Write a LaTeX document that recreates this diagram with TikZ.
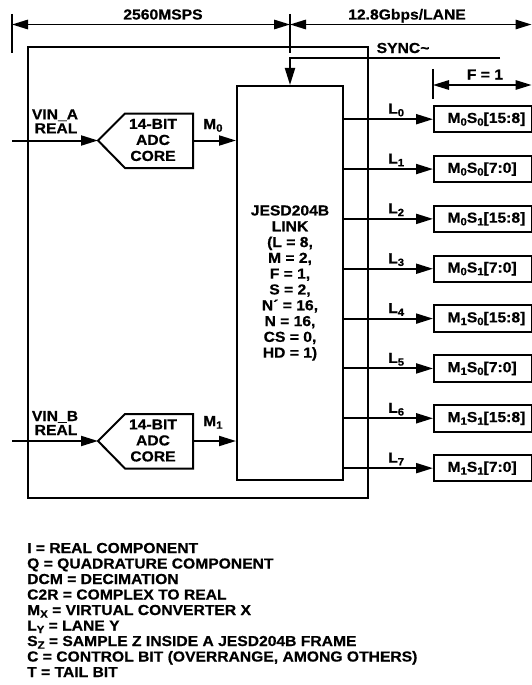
\documentclass[tikz,border=0pt]{standalone}
\usepackage{fontspec}
\setmainfont[FakeStretch=1.08,FakeBold=0.6]{Liberation Sans}
\usetikzlibrary{arrows.meta,calc}
\newcommand\sbs[1]{\raisebox{-0.35ex}{\fontsize{10.5}{10.5}\selectfont #1}}
\begin{document}
\begin{tikzpicture}[x=1pt,y=-1pt,
  every node/.style={font=\bfseries\fontsize{14.5}{15.5}\selectfont, inner sep=0pt},
  ln/.style={line width=2pt},
  tip/.style={},
  arr/.style={ln, -{Triangle[length=17pt,width=10pt]}},
  dimarr/.style={line width=1.5pt, {Triangle[length=16pt,width=9.5pt]}-{Triangle[length=16pt,width=9.5pt]}},
  tickline/.style={line width=1.2pt},
  lanebox/.style={draw, ln, minimum height=26.5pt, text width=98pt, inner xsep=0pt, align=left, anchor=west},
  lbl/.style={anchor=base west}]
\useasboundingbox (0,0) rectangle (532,685);

% dimension lines at the top
\coordinate (d1) at (12,14);
\coordinate (d2) at (290,14);
\coordinate (d3) at (531.5,24.5);
\draw[tickline] (d1) -- ++(0,39);
\draw[tickline] (d2) -- ++(0,39);
\draw[dimarr] ($(d1)+(0,10.5)$) -- ($(d2)+(0,10.5)$);
\draw[dimarr] ($(d2)+(0,10.5)$) -- (d3);
\node[anchor=base] (rate1) at (163,19.5) {2560MSPS};
\node[anchor=base] (rate2) at (407,19.5) {12.8Gbps/LANE};

% outer box
\draw[ln] (28,47) rectangle (368,497.5);

% JESD link
\node[draw, ln, minimum width=106pt, minimum height=394pt, align=center,
      font=\bfseries\fontsize{14.5}{15.8}\selectfont] (jesd) at (290,283)
  {JESD204B\\LINK\\(L = 8,\\M = 2,\\F = 1,\\S = 2,\\N´ = 16,\\N = 16,\\CS = 0,\\HD = 1)};

% SYNC
\coordinate (syncin) at (500,58);
\draw[arr] (syncin) -| (jesd.north);
\node[lbl] (synclbl) at (376.5,53) {SYNC\textasciitilde};

% ADC A
\coordinate (tipA) at (98,140.5);
\coordinate (inA) at (12,140.5);
\coordinate (outA) at (193,140.5);
\draw[ln] (tipA) -- ++(27,-27) -- ++(68,0) -- ++(0,54.5) -- ++(-68,0) -- cycle;
\node[align=center, font=\bfseries\fontsize{14.5}{16}\selectfont] (adcA) at (153,140) {14-BIT\\ADC\\CORE};
\draw[arr] (inA) -- (tipA);
\draw[arr] (outA) -- (outA -| jesd.west);
\node[lbl] (m0) at (203,129) {M\sbs0};
\node[anchor=base] (vinA) at (55,119.3) {VIN\_A};
\node[anchor=base] (realA) at (56,133.3) {REAL};

% ADC B
\coordinate (tipB) at (98,441);
\coordinate (inB) at (12,441);
\coordinate (outB) at (193,441);
\draw[ln] (tipB) -- ++(27,-27) -- ++(68,0) -- ++(0,54.5) -- ++(-68,0) -- cycle;
\node[align=center, font=\bfseries\fontsize{14.5}{16}\selectfont] (adcB) at (153,440.5) {14-BIT\\ADC\\CORE};
\draw[arr] (inB) -- (tipB);
\draw[arr] (outB) -- (outB -| jesd.west);
\node[lbl] (m1) at (203,426) {M\sbs1};
\node[anchor=base] (vinB) at (55,421) {VIN\_B};
\node[anchor=base] (realB) at (56,435) {REAL};

% F = 1
\coordinate (f1) at (433,69);
\coordinate (f2) at (531.5,85);
\draw[tickline] (f1) -- ++(0,29.5);
\draw[dimarr] ($(f1)+(0,16)$) -- (f2);
\node[anchor=base] (flbl) at (485,79.5) {F = 1};

% lanes
\foreach \k/\t in {0/{M\sbs0S\sbs0[15:8]},1/{M\sbs0S\sbs0[7:0]},2/{M\sbs0S\sbs1[15:8]},3/{M\sbs0S\sbs1[7:0]},
                   4/{M\sbs1S\sbs0[15:8]},5/{M\sbs1S\sbs0[7:0]},6/{M\sbs1S\sbs1[15:8]},7/{M\sbs1S\sbs1[7:0]}}{
  \node[lanebox] (b\k) at (433,119.2+49.85*\k) {\hspace*{13.5pt}\t};
  \draw[arr] (b\k.west -| jesd.east) -- (b\k.west);
  \node[lbl] (l\k) at ($(b\k.west)+(-45,-5.5)$) {L\sbs{\k}};
}

% legend
\node[anchor=north west, align=left] (legend) at (27,542.7)
  {I = REAL COMPONENT\\
   Q = QUADRATURE COMPONENT\\
   DCM = DECIMATION\\
   C2R = COMPLEX TO REAL\\
   M\sbs{X} = VIRTUAL CONVERTER X\\
   L\sbs{Y} = LANE Y\\
   S\sbs{Z} = SAMPLE Z INSIDE A JESD204B FRAME\\
   C = CONTROL BIT (OVERRANGE, AMONG OTHERS)\\
   T = TAIL BIT};
\end{tikzpicture}
\end{document}
